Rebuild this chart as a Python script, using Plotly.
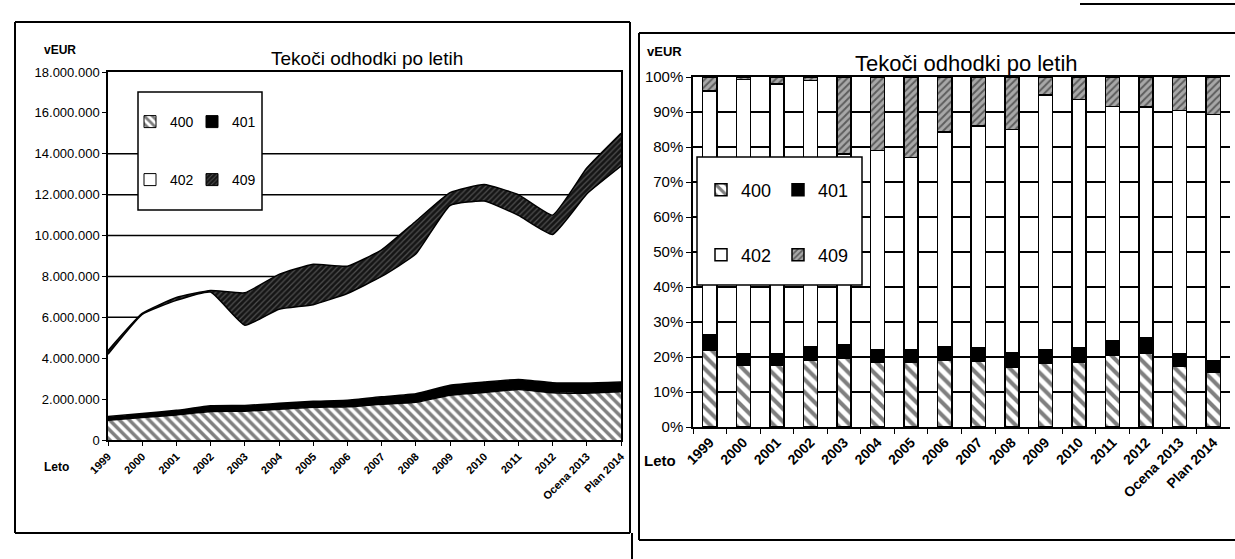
"""
Tekoči odhodki po letih - površinski graf (EUR) in 100% stolpci
"""

import plotly.graph_objects as go

W, H = 1235, 559

leta = ["1999", "2000", "2001", "2002", "2003", "2004", "2005", "2006", "2007",
        "2008", "2009", "2010", "2011", "2012", "Ocena 2013", "Plan 2014"]

# odhodki po kontih, v EUR
konto_400 = [960000, 1100000, 1225000, 1390000, 1410000, 1505000, 1600000, 1625000,
             1750000, 1840000, 2190000, 2325000, 2470000, 2310000, 2290000, 2355000]
konto_401 = [190000, 200000, 225000, 285000, 280000, 290000, 290000, 320000,
             360000, 420000, 490000, 510000, 490000, 495000, 500000, 485000]
konto_402 = [3045000, 4845000, 5380000, 5560000, 3925000, 4605000, 4730000, 5220000,
             5890000, 6835000, 8790000, 8855000, 8030000, 7250000, 9245000, 10555000]
konto_409 = [175000, 45000, 140000, 75000, 1585000, 1700000, 1980000, 1335000,
             1300000, 1605000, 630000, 810000, 1010000, 945000, 1265000, 1605000]

y_levo = [0, 2000000, 4000000, 6000000, 8000000, 10000000, 12000000, 14000000, 16000000, 18000000]
y_levo_txt = ["0", "2.000.000", "4.000.000", "6.000.000", "8.000.000", "10.000.000",
              "12.000.000", "14.000.000", "16.000.000", "18.000.000"]
mreza_levo = [2000000, 4000000, 6000000, 8000000, 10000000, 12000000, 14000000]

FONT = "Liberation Sans Narrow, Arial Narrow, Liberation Sans, Arial, sans-serif"


def px(x):
    return x / W


def py(y):
    return 1 - y / H


serije = [("400", konto_400), ("401", konto_401), ("402", konto_402), ("409", konto_409)]

# levi graf: polnila površin
vzorci = {
    "400": dict(shape="\\", fgcolor="black", bgcolor="white", size=7, solidity=0.5),
    "401": None,
    "402": None,
    "409": dict(shape="/", fgcolor="#8a8a8a", bgcolor="#151515", size=4, solidity=0.3),
}
barve = {"400": "white", "401": "black", "402": "white", "409": "#151515"}

# desni graf: polnila stolpcev
vzorci_desno = {
    "400": dict(shape="\\", fgcolor="black", bgcolor="white", size=9, solidity=0.45),
    "401": None,
    "402": None,
    "409": dict(shape="/", fgcolor="#111111", bgcolor="#a8a8a8", size=5, solidity=0.4),
}
barve_desno = {"400": "white", "401": "black", "402": "white", "409": "#a8a8a8"}

# položaj legend (px): levo in desno, 2 x 2
leg_levo = {"400": (130, 122), "401": (192, 122), "402": (130, 180), "409": (192, 180)}
leg_desno = {"400": (701, 190), "401": (778, 190), "402": (701, 255), "409": (778, 255)}

fig = go.Figure()

# levi graf - naložena površina
for ime, vrednosti in serije:
    fig.add_trace(go.Scatter(
        x=leta, y=vrednosti, name=ime, stackgroup="one", mode="lines",
        line=dict(color="black", width=1.5, shape="spline", smoothing=0.4),
        fillcolor=barve[ime], fillpattern=vzorci[ime],
        xaxis="x", yaxis="y", showlegend=False,
    ))

# legenda levega grafa (samo simboli)
for i, (ime, _) in enumerate(serije):
    fig.add_trace(go.Bar(
        x=[None], y=[None], name=ime,
        marker=dict(color=barve[ime], line=dict(color="black", width=1), pattern=vzorci[ime]),
        xaxis="x", yaxis="y",
        legend="legend" if i == 0 else f"legend{i + 1}",
    ))

# desni graf - 100% stolpci
for i, (ime, vrednosti) in enumerate(serije):
    fig.add_trace(go.Bar(
        x=leta, y=vrednosti, name=ime,
        marker=dict(color=barve_desno[ime], line=dict(color="black", width=1.5),
                    pattern=vzorci_desno[ime]),
        xaxis="x2", yaxis="y2",
        legend=f"legend{i + 5}",
    ))

oblike = []
# mreža levo (pod površino)
for v in mreza_levo:
    oblike.append(dict(type="line", xref="x", yref="y", x0=0, x1=15, y0=v, y1=v,
                       line=dict(color="black", width=1.5), layer="below"))

# okvirji legend
oblike.append(dict(type="rect", xref="paper", yref="paper",
                   x0=px(138), x1=px(262), y0=py(210), y1=py(92),
                   fillcolor="white", line=dict(color="black", width=1.5), layer="above"))
oblike.append(dict(type="rect", xref="paper", yref="paper",
                   x0=px(697), x1=px(862), y0=py(285), y1=py(157),
                   fillcolor="white", line=dict(color="black", width=1.5), layer="above"))

# okvirji strani (skenirani dokument)
for x0, y0, x1, y1 in [(15, 22, 630, 22), (15, 22, 15, 533), (15, 533, 630, 533),
                       (630, 22, 630, 533), (639, 33, 1235, 33), (639, 33, 639, 540),
                       (639, 540, 1235, 540), (632, 533, 632, 559), (1080, 4, 1235, 4)]:
    oblike.append(dict(type="line", xref="paper", yref="paper",
                       x0=px(x0), x1=px(x1), y0=py(y0), y1=py(y1),
                       line=dict(color="black", width=2)))

napisi = [
    dict(text="Tekoči odhodki po letih", x=px(367), y=py(58), font=dict(size=19)),
    dict(text="Tekoči odhodki po letih", x=px(966), y=py(64), font=dict(size=22)),
    dict(text="<b>vEUR</b>", x=px(60), y=py(50), font=dict(size=12)),
    dict(text="<b>vEUR</b>", x=px(664), y=py(51), font=dict(size=13)),
    dict(text="<b>Leto</b>", x=px(56), y=py(467), font=dict(size=12)),
    dict(text="<b>Leto</b>", x=px(660), y=py(460), font=dict(size=15)),
]
for n in napisi:
    n.update(xref="paper", yref="paper", showarrow=False, xanchor="center", yanchor="middle")

legende = {}
for i, (ime, _) in enumerate(serije):
    for n, poz, vel in ((i + 1, leg_levo[ime], 14), (i + 5, leg_desno[ime], 18)):
        kljuc = "legend" if n == 1 else f"legend{n}"
        legende[kljuc] = dict(orientation="h", bgcolor="rgba(0,0,0,0)", borderwidth=0,
                              itemwidth=30, itemclick=False, xanchor="left", yanchor="middle",
                              x=px(poz[0]), y=py(poz[1]), font=dict(size=vel))

fig.update_layout(
    width=W, height=H, autosize=False,
    margin=dict(l=0, r=0, t=0, b=0, pad=0),
    paper_bgcolor="white", plot_bgcolor="white",
    font=dict(family=FONT, color="black", size=12),
    barmode="stack", barnorm="percent", bargap=0.58,
    xaxis=dict(domain=[px(108), px(621)], type="category", range=[0, 15], automargin=False,
               showgrid=False, showline=True, linecolor="black", linewidth=1.5, mirror=True,
               ticks="outside", ticklen=4, tickcolor="black", tickangle=-45,
               tickfont=dict(size=11, weight="bold"), anchor="y"),
    yaxis=dict(domain=[py(440), py(72)], range=[0, 18000000], tickvals=y_levo, ticktext=y_levo_txt,
               automargin=False,
               showgrid=False, showline=True, linecolor="black", linewidth=1.5, mirror=True,
               ticks="outside", ticklen=4, tickcolor="black", zeroline=False,
               tickfont=dict(size=13), anchor="x"),
    xaxis2=dict(domain=[px(693), px(1230)], type="category", automargin=False,
                showgrid=False, showline=True, linecolor="black", linewidth=1.5, mirror=True,
                ticks="outside", ticklen=5, tickcolor="black", tickson="boundaries",
                tickangle=-45, tickfont=dict(size=14, weight="bold"), anchor="y2"),
    yaxis2=dict(domain=[py(427), py(77)], range=[0, 100], dtick=10, ticksuffix="%",
                automargin=False,
                showgrid=True, gridcolor="black", gridwidth=1.5,
                showline=True, linecolor="black", linewidth=1.5,
                ticks="outside", ticklen=5, tickcolor="black", zeroline=False,
                tickfont=dict(size=15), anchor="x2"),
    shapes=oblike,
    annotations=napisi,
    **legende,
)

# brez robu strani, da se slika ujema z oknom
fig.write_html("out.html", config={"displayModeBar": False},
               post_script="document.body.style.margin='0';")
